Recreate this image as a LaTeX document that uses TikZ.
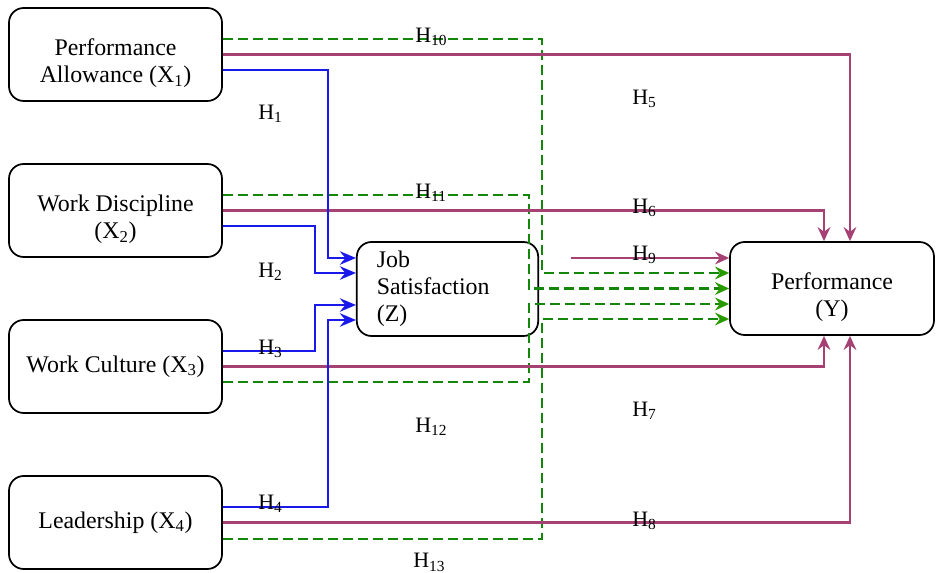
\documentclass[tikz,border=0pt]{standalone}
\usepackage{fontspec}
\setmainfont{Liberation Serif}
\usetikzlibrary{calc,arrows.meta}

\definecolor{hblue}{RGB}{25,25,235}
\definecolor{hpurple}{RGB}{165,65,115}
\definecolor{hgreen}{RGB}{20,135,10}
\definecolor{hgreentip}{RGB}{40,155,0}

\newcommand{\lowtext}{\rule{0pt}{26pt}}

\tikzset{
  var/.style={draw, line width=1.3pt, rounded corners=11pt, minimum width=159.75pt,
    minimum height=69.75pt, align=center, font=\fontsize{17.9}{20.3}\selectfont},
  toz/.style={draw=hblue, line width=2pt, -{Stealth[length=12pt,width=10pt,inset=4pt]}},
  toy/.style={draw=hpurple, line width=1.7pt, -{Stealth[length=10.5pt,width=9.5pt,inset=3.5pt]}},
  viaz/.style={draw=hgreen, line width=1.7pt, dash pattern=on 7.5pt off 3.75pt,
    -{Stealth[length=10.5pt,width=9.5pt,inset=3.5pt,color=hgreentip]}},
  hyp/.style={anchor=base west, inner sep=0pt, font=\fontsize{16.5}{18}\selectfont}
}

\begin{document}
\begin{tikzpicture}[x=0.75pt,y=0.75pt,yscale=-1,xscale=1]
\useasboundingbox (0,0) rectangle (936,573);

% Variables
\node[var] (X1) at (115.5,54.5) {\lowtext Performance\\Allowance (X\textsubscript{1})};
\node[var] (X2) at (115.5,210.5) {\lowtext Work Discipline\\(X\textsubscript{2})};
\node[var] (X3) at (115.5,366.5) {Work Culture (X\textsubscript{3})};
\node[var] (X4) at (115.5,522.5) {Leadership (X\textsubscript{4})};
\node[var, minimum width=135.75pt, minimum height=70.5pt, text width=106pt,
  inner xsep=15pt, align=left] (Z) at (447.5,289) {Job\\Satisfaction\\(Z)};
\node[var, minimum width=153pt] (Y) at (832,288.5) {\lowtext Performance\\(Y)};

% Indirect effects through Z
\draw[viaz] ($(X1.east)+(0,-15.5)$) -| ($(Y.west)+(-187,-15.5)$) -- ($(Y.west)+(0,-15.5)$);
\draw[viaz] ($(X2.east)+(0,-15.5)$) -| ($(Y.west)+(-200,0)$) -- (Y.west);
\draw[viaz] ($(X3.east)+(0,15.5)$) -| ($(Y.west)+(-200,15.5)$) -- ($(Y.west)+(0,15.5)$);
\draw[viaz] ($(X4.east)+(0,16.5)$) -| ($(Y.west)+(-187,30.5)$) -- ($(Y.west)+(0,30.5)$);

% Direct effects on Y
\draw[toy] (X1.east) -| ($(Y.north)+(18,0)$);
\draw[toy] (X2.east) -| ($(Y.north)+(-8,0)$);
\draw[toy] (X3.east) -| ($(Y.south)+(-8,0)$);
\draw[toy] (X4.east) -| ($(Y.south)+(18,0)$);
\draw[toy] ($(Z.east)+(32,-31)$) -- ($(Y.west)+(0,-30.5)$);

% Effects on Z
\draw[toz] ($(X1.east)+(0,15.5)$) -| ($(Z.west)+(-28,-31)$) -- ($(Z.west)+(0,-31)$);
\draw[toz] ($(X2.east)+(0,15.5)$) -| ($(Z.west)+(-41,-16)$) -- ($(Z.west)+(0,-16)$);
\draw[toz] ($(X3.east)+(0,-15.5)$) -| ($(Z.west)+(-41,16)$) -- ($(Z.west)+(0,16)$);
\draw[toz] ($(X4.east)+(0,-15.5)$) -| ($(Z.west)+(-28,31)$) -- ($(Z.west)+(0,31)$);

% Hypotheses
\node[hyp] (h1) at (258,119.5) {H\textsubscript{1}};
\node[hyp] (h2) at (258,277.5) {H\textsubscript{2}};
\node[hyp] (h3) at (258,354.5) {H\textsubscript{3}};
\node[hyp] (h4) at (258,509.5) {H\textsubscript{4}};
\node[hyp] (h5) at (632,104.5) {H\textsubscript{5}};
\node[hyp] (h6) at (632,213.5) {H\textsubscript{6}};
\node[hyp] (h9) at (632,260.5) {H\textsubscript{9}};
\node[hyp] (h7) at (632,416.5) {H\textsubscript{7}};
\node[hyp] (h8) at (632,526.5) {H\textsubscript{8}};
\node[hyp] (h10) at (415,42.5) {H\textsubscript{10}};
\node[hyp] (h11) at (415,198.5) {H\textsubscript{11}};
\node[hyp] (h12) at (415,432.5) {H\textsubscript{12}};
\node[hyp] (h13) at (413,568) {H\textsubscript{13}};

\end{tikzpicture}
\end{document}
